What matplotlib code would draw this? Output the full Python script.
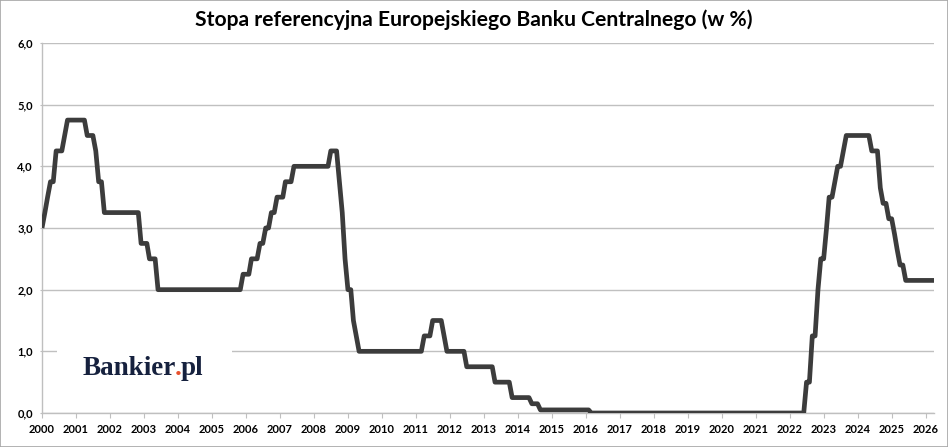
import matplotlib
matplotlib.use('Agg')
import matplotlib.pyplot as plt
from matplotlib.patches import Rectangle
from matplotlib.ticker import FuncFormatter, MultipleLocator
from datetime import datetime
import pandas as pd

# ECB main refinancing rate, dates of change and new level (%)
change_dates = ['1999-11-05', '2000-02-04', '2000-03-17', '2000-04-28', '2000-06-09',
                '2000-09-01', '2000-10-06', '2001-05-11', '2001-08-31', '2001-09-18',
                '2001-11-09', '2002-12-06', '2003-03-07', '2003-06-06', '2005-12-06',
                '2006-03-08', '2006-06-15', '2006-08-09', '2006-10-11', '2006-12-13',
                '2007-03-14', '2007-06-13', '2008-07-09', '2008-10-15', '2008-11-12',
                '2008-12-10', '2009-01-21', '2009-03-11', '2009-04-08', '2009-05-13',
                '2011-04-13', '2011-07-13', '2011-11-09', '2011-12-14', '2012-07-11',
                '2013-05-08', '2013-11-13', '2014-06-11', '2014-09-10', '2016-03-16',
                '2022-07-27', '2022-09-14', '2022-11-02', '2022-12-21', '2023-02-08',
                '2023-03-22', '2023-05-10', '2023-06-21', '2023-08-02', '2023-09-20',
                '2024-06-12', '2024-09-18', '2024-10-23', '2024-12-18', '2025-02-05',
                '2025-03-12', '2025-04-23', '2025-06-11']
change_rates = [3.00, 3.25, 3.50, 3.75, 4.25,
                4.50, 4.75, 4.50, 4.25, 3.75,
                3.25, 2.75, 2.50, 2.00, 2.25,
                2.50, 2.75, 3.00, 3.25, 3.50,
                3.75, 4.00, 4.25, 3.75, 3.25,
                2.50, 2.00, 1.50, 1.25, 1.00,
                1.25, 1.50, 1.25, 1.00, 0.75,
                0.50, 0.25, 0.15, 0.05, 0.00,
                0.50, 1.25, 2.00, 2.50, 3.00,
                3.50, 3.75, 4.00, 4.25, 4.50,
                4.25, 3.65, 3.40, 3.15, 2.90,
                2.65, 2.40, 2.15]
first_month = '2000-01-01'
last_month = '2026-04-01'
years = list(range(2000, 2027))
title = 'Stopa referencyjna Europejskiego Banku Centralnego (w %)'

# monthly chart: value at the end of each month
rates = pd.Series(change_rates, index=pd.to_datetime(change_dates))
months = pd.date_range(first_month, last_month, freq='MS')
month_ends = months + pd.offsets.MonthEnd(0)
monthly = rates.asof(month_ends).values
x = months.to_pydatetime()

plt.rcParams['font.family'] = ['Lato', 'DejaVu Sans']

fig = plt.figure(figsize=(9.48, 4.47), dpi=100)
ax = fig.add_axes([42/948, 1-413/447, 892/948, 370/447])
ax.plot(x, monthly, color='#3c3c3c', lw=3.4, solid_joinstyle='round',
        solid_capstyle='butt', zorder=3)
ax.set_xlim(x[0], x[-1])
ax.set_ylim(0, 6)
ax.yaxis.set_major_locator(MultipleLocator(1))
ax.yaxis.set_major_formatter(FuncFormatter(lambda v, p: f'{v:.1f}'.replace('.', ',')))
ax.set_xticks([datetime(y, 1, 1) for y in years])
ax.set_xticklabels([str(y) for y in years])
ax.grid(axis='y', color='#c0c0c0', lw=1)
ax.set_axisbelow(True)
for s in ['top', 'right']:
    ax.spines[s].set_visible(False)
for s in ['left', 'bottom']:
    ax.spines[s].set_color('#bfbfbf')
    ax.spines[s].set_linewidth(1)
ax.tick_params(axis='x', length=3.6, color='#bfbfbf', pad=4.5, labelsize=8)
ax.tick_params(axis='y', length=1.5, color='#bfbfbf', pad=5, labelsize=8)
for lbl in ax.get_xticklabels() + ax.get_yticklabels():
    lbl.set_fontweight('bold')

fig.text(473.5/948, 1-20/447, title, ha='center', va='center',
         fontsize=15.2, fontweight='bold', color='#000000')

# logo box hiding the gridline
fig.patches.append(Rectangle((57/948, 1-385/447), 175/948, 45/447,
                             transform=fig.transFigure, facecolor='white',
                             edgecolor='none', zorder=2))
logo_font = dict(fontfamily='Liberation Serif', fontweight='bold', fontsize=19.5,
                 va='baseline', zorder=3)
t1 = fig.text(83/948, 1-375/447, 'Bankier', color='#16213e', **logo_font)
fig.canvas.draw()
bb = t1.get_window_extent()
t2 = fig.text((bb.x1 - 1.5)/948, 1-375/447, '.', color='#e8502d', **logo_font)
fig.canvas.draw()
bb2 = t2.get_window_extent()
fig.text((bb2.x1 - 1.5)/948, 1-375/447, 'pl', color='#16213e', **logo_font)

fig.patches.append(Rectangle((0.0005, 0.001), 0.999, 0.998, transform=fig.transFigure,
                             fill=False, edgecolor='#a6a6a6', lw=1.2, zorder=5))

fig.savefig('out.png', dpi=100)
